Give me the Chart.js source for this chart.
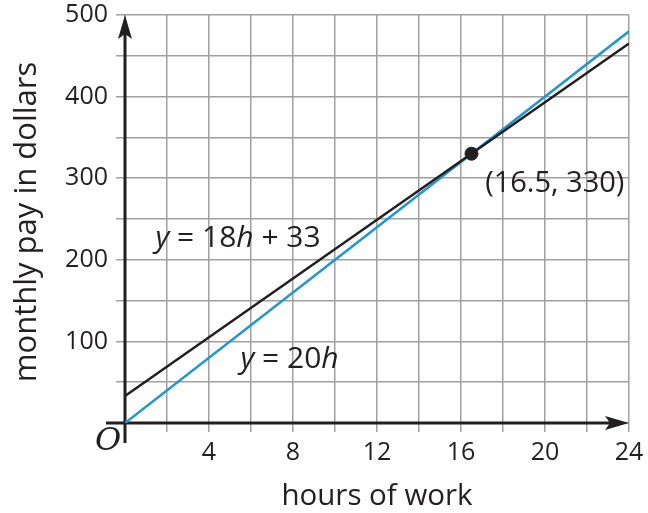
<!DOCTYPE html>
<html>
<head>
<meta charset="utf-8">
<script src="https://cdn.jsdelivr.net/npm/chart.js@4.4.1/dist/chart.umd.min.js"></script>
<style>
  html, body { margin: 0; padding: 0; background: #fff; }
  #wrap { width: 648px; height: 513px; position: relative; }
</style>
</head>
<body>
<div id="wrap"><canvas id="c" width="648" height="513"></canvas></div>
<script>
// ---- data ----
const hours = [0, 24];
const payFixed = [33, 465];      // y = 18h + 33
const payHourly = [0, 480];      // y = 20h
const meetX = [16.5];
const meetY = [330];
const xTickLabels = [4, 8, 12, 16, 20, 24];
const yTickLabels = [100, 200, 300, 400, 500];
const xTitle = 'hours of work';
const yTitle = 'monthly pay in dollars';
const meetLabel = '(16.5, 330)';

const FONT = '"Open Sans", "DejaVu Sans", sans-serif';
const INK = '#231f20';
const BLUE = '#2196cf';
const GRID = '#a0a0a0';

function pts(xs, ys) { return xs.map((x, i) => ({ x: x, y: ys[i] })); }

function richText(ctx, parts, x, y, size) {
  let cx = x;
  parts.forEach(p => {
    ctx.font = (p.i ? 'italic ' : '') + size + 'px ' + FONT;
    ctx.fillText(p.t, cx, y);
    cx += ctx.measureText(p.t).width;
  });
}

const decor = {
  id: 'decor',
  beforeDatasetsDraw(chart) {
    const ctx = chart.ctx;
    const xs = chart.scales.x, ys = chart.scales.y;
    const x0 = xs.getPixelForValue(0), y0 = ys.getPixelForValue(0);
    const xEnd = xs.getPixelForValue(24), yTop = ys.getPixelForValue(500);
    ctx.save();
    ctx.strokeStyle = INK; ctx.fillStyle = INK; ctx.lineWidth = 3;
    // y axis
    ctx.beginPath(); ctx.moveTo(x0, y0 + 20); ctx.lineTo(x0, yTop + 18); ctx.stroke();
    ctx.beginPath(); ctx.moveTo(x0, yTop); ctx.lineTo(x0 - 7, yTop + 24);
    ctx.lineTo(x0, yTop + 19); ctx.lineTo(x0 + 7, yTop + 24); ctx.closePath(); ctx.fill();
    // x axis
    ctx.beginPath(); ctx.moveTo(x0 - 19, y0); ctx.lineTo(xEnd - 18, y0); ctx.stroke();
    ctx.beginPath(); ctx.moveTo(xEnd, y0); ctx.lineTo(xEnd - 24, y0 - 7);
    ctx.lineTo(xEnd - 19, y0); ctx.lineTo(xEnd - 24, y0 + 7); ctx.closePath(); ctx.fill();
    ctx.restore();
  },
  afterDraw(chart) {
    const ctx = chart.ctx;
    const xs = chart.scales.x, ys = chart.scales.y;
    const ca = chart.chartArea;
    ctx.save();
    ctx.fillStyle = INK;
    ctx.textBaseline = 'alphabetic';
    ctx.textAlign = 'left';
    richText(ctx, [{t:'y', i:true}, {t:' = 18'}, {t:'h', i:true}, {t:' + 33'}],
      xs.getPixelForValue(1.45), ys.getPixelForValue(216), 30);
    richText(ctx, [{t:'y', i:true}, {t:' = 20'}, {t:'h', i:true}],
      xs.getPixelForValue(5.5), ys.getPixelForValue(67), 30);
    ctx.font = '29px ' + FONT;
    ctx.fillText(meetLabel, xs.getPixelForValue(17.15), ys.getPixelForValue(283));
    // axis titles
    ctx.font = '29.5px ' + FONT;
    ctx.textAlign = 'center';
    ctx.fillText(xTitle, (ca.left + ca.right) / 2, 505);
    ctx.save();
    ctx.translate(36, (ca.top + ca.bottom) / 2 + 3);
    ctx.rotate(-Math.PI / 2);
    ctx.font = '31px ' + FONT;
    ctx.fillText(yTitle, 0, 0);
    ctx.restore();
    // origin mark
    ctx.font = 'italic 32px "DejaVu Serif", serif';
    ctx.textAlign = 'center';
    ctx.textBaseline = 'middle';
    ctx.fillText('O', xs.getPixelForValue(0) - 17, ys.getPixelForValue(0) + 19);
    ctx.restore();
  }
};

new Chart(document.getElementById('c'), {
  type: 'scatter',
  data: {
    datasets: [
      { data: pts(hours, payHourly), showLine: true, borderColor: BLUE, borderWidth: 2.5, pointRadius: 0, order: 2 },
      { data: pts(hours, payFixed), showLine: true, borderColor: INK, borderWidth: 2.5, pointRadius: 0, order: 1 },
      { data: pts(meetX, meetY), backgroundColor: INK, borderColor: INK, pointRadius: 6.5, order: 0 }
    ]
  },
  plugins: [decor],
  options: {
    responsive: false,
    animation: false,
    events: [],
    layout: { padding: { left: 0, right: 19, top: 15, bottom: 0 } },
    plugins: { legend: { display: false }, tooltip: { enabled: false } },
    scales: {
      x: {
        type: 'linear', min: 0, max: 24,
        afterFit(s) { s.height = 90; s.paddingLeft = 0; s.paddingRight = 0; },
        afterBuildTicks(s) { s.ticks = []; for (let v = 0; v <= 24; v += 2) s.ticks.push({ value: v }); },
        ticks: {
          autoSkip: false, maxRotation: 0, padding: 6, color: INK,
          font: { family: FONT, size: 25 },
          callback: v => xTickLabels.includes(v) ? String(v) : ''
        },
        grid: { color: GRID, lineWidth: 1.5, tickLength: 9, tickColor: GRID, drawOnChartArea: true },
        border: { display: false },
        title: { display: false }
      },
      y: {
        type: 'linear', min: 0, max: 500,
        afterFit(s) { s.width = 125; s.paddingTop = 0; s.paddingBottom = 0; },
        afterBuildTicks(s) { s.ticks = []; for (let v = 0; v <= 500; v += 50) s.ticks.push({ value: v }); },
        ticks: {
          autoSkip: false, padding: 8, color: INK,
          font: { family: FONT, size: 25 },
          callback: v => yTickLabels.includes(v) ? String(v) : ''
        },
        grid: { color: GRID, lineWidth: 1.5, tickLength: 9, tickColor: GRID },
        border: { display: false },
        title: { display: false }
      }
    }
  }
});
</script>
</body>
</html>
